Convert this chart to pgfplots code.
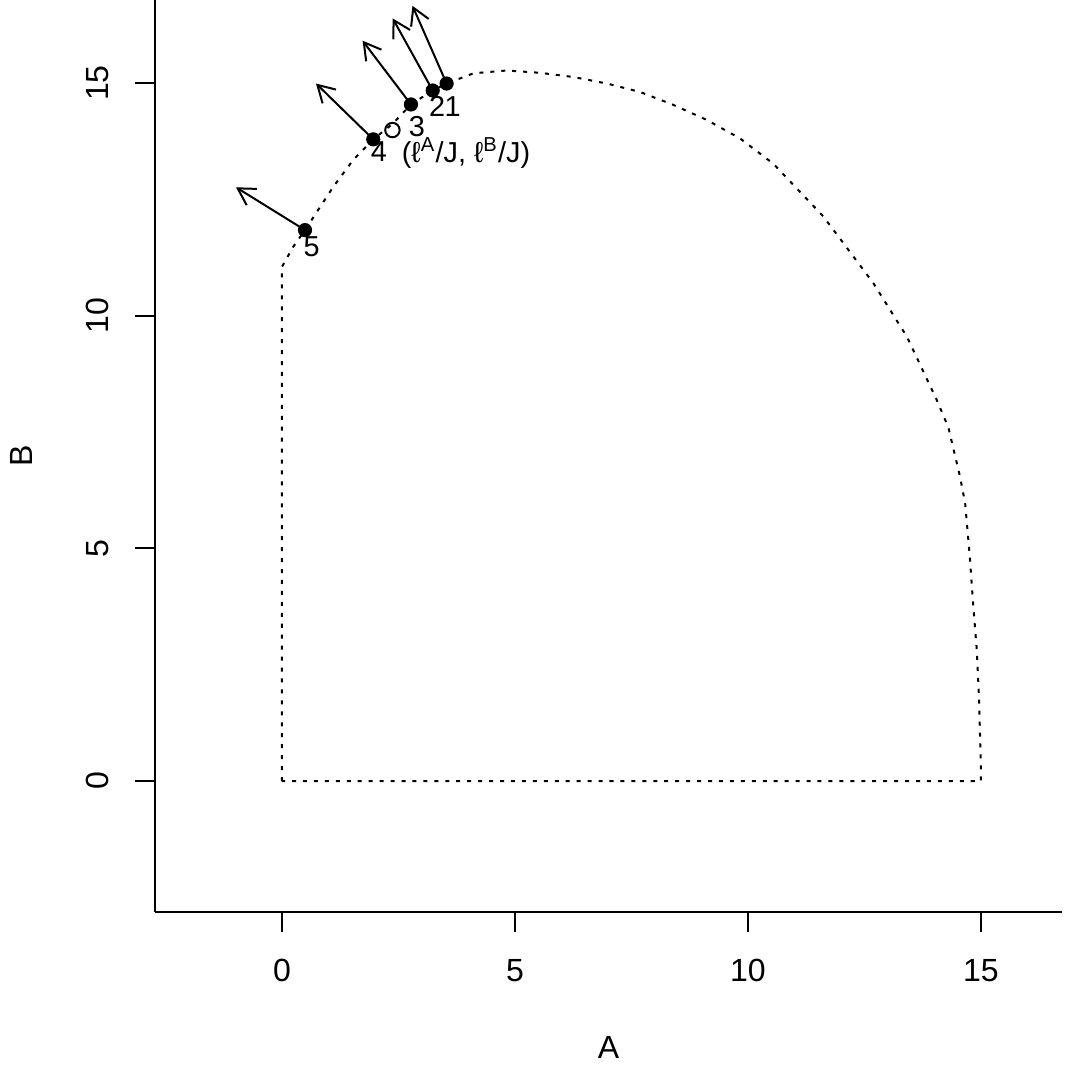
\documentclass[border=0pt]{standalone}
\usepackage{fontspec}
\setmainfont{Liberation Sans}
\usepackage{pgfplots}
\pgfplotsset{compat=1.18}
\usetikzlibrary{arrows.meta}

\begin{document}
\fontsize{12}{14}\selectfont
\begin{tikzpicture}
\useasboundingbox (-58.05pt,-58.43pt) rectangle (341.95pt,341.57pt);
\begin{axis}[
  at={(0,0)}, anchor=south west,
  scale only axis,
  width=339.70pt, height=341.57pt,
  xmin=-2.725, xmax=16.738,
  ymin=-2.815, ymax=16.785,
  axis x line*=bottom, axis y line*=left,
  axis line style={line width=0.75pt},
  tick align=outside,
  major tick length=7.5pt,
  tick style={line width=0.75pt, black},
  xtick={0,5,10,15}, ytick={0,5,10,15},
  ticklabel style={font=\fontsize{12}{14}\selectfont, inner sep=0pt},
  /pgf/number format/assume math mode=true,
  xticklabel shift=10.1pt,
  yticklabel shift=9.6pt,
  xticklabel style={anchor=north},
  yticklabel style={rotate=90, anchor=south},
  xlabel={A}, ylabel={B},
  label style={font=\fontsize{12}{14}\selectfont, inner sep=0pt},
  xlabel style={at={(axis description cs:0.5,-0.1491)}, anchor=center},
  ylabel style={at={(axis description cs:-0.1474,0.5)}, anchor=center},
  clip=false,
]
% frontier
\addplot[line width=0.75pt, dash pattern=on 1.5pt off 2.6pt] coordinates {
  (0,0) (0,11.05) (0.24,11.48) (0.494,11.84) (1.10,12.77) (1.53,13.35)
  (1.959,13.79) (2.37,14.12) (2.768,14.54) (3.234,14.84) (3.533,14.99)
  (4.11,15.21) (4.82,15.27) (5.54,15.22) (6.25,15.13) (6.97,14.99)
  (7.68,14.81) (8.40,14.53) (9.11,14.21) (9.83,13.81) (10.54,13.27)
  (11.62,12.13) (12.69,10.70) (13.41,9.55) (14.05,8.19) (14.30,7.60)
  (14.55,6.54) (14.66,5.97) (14.76,4.82) (14.83,3.82) (14.91,2.82)
  (14.96,1.74) (15.0,0.17) (15,0) (0,0)
};
% arrows
\pgfplotsset{arr/.style={line width=0.75pt, -{Straight Barb[length=6.2pt,width=7.2pt]}}}
\addplot[arr] coordinates {(3.533,14.99) (2.80,16.66)};
\addplot[arr] coordinates {(3.234,14.84) (2.375,16.39)};
\addplot[arr] coordinates {(2.768,14.54) (1.73,15.91)};
\addplot[arr] coordinates {(1.959,13.79) (0.73,14.99)};
\addplot[arr] coordinates {(0.494,11.84) (-0.987,12.76)};
% points
\addplot[only marks, mark=*, mark size=2.5pt, mark options={line width=0.3pt, fill=black}] coordinates {
  (3.533,14.99) (3.234,14.84) (2.768,14.54) (1.959,13.79) (0.494,11.84)
};
\addplot[only marks, mark=o, mark size=2.7pt, mark options={line width=0.75pt}] coordinates {(2.37,13.99)};
% labels
\addplot[draw=none, mark=none, nodes near coords, point meta=explicit symbolic,
  nodes near coords align=center,
  every node near coord/.append style={anchor=center, inner sep=0pt, font=\fontsize{10.8}{12}\selectfont}]
  coordinates {
  (3.66,14.50) [1] (3.33,14.49) [2] (2.897,14.06) [3] (2.082,13.52) [4] (0.637,11.48) [5]
  (3.95,13.50) [{(ℓ\textsuperscript{A}/J, ℓ\textsuperscript{B}/J)}]
};
\end{axis}
\end{tikzpicture}
\end{document}
